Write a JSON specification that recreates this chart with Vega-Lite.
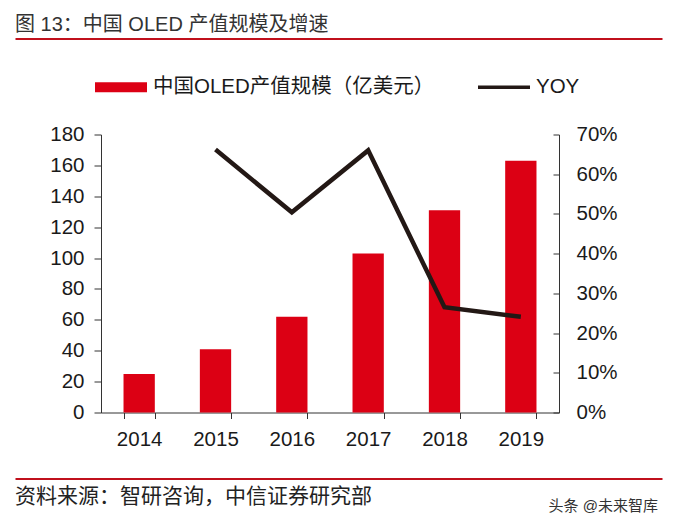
{
  "$schema": "https://vega.github.io/schema/vega-lite/v6.json",
  "padding": {"left": 15, "top": 11.5, "right": 0, "bottom": 0},
  "spacing": 22,
  "config": {
    "view": {"stroke": null},
    "font": "Liberation Sans, Noto Sans CJK SC",
    "axis": {"grid": false}
  },
  "resolve": {"scale": {"color": "independent"}, "legend": {"color": "independent"}},
  "vconcat": [
    {
      "width": 561,
      "height": 27,
      "data": {"values": [{"pos": 0, "label": "图 13：中国 OLED 产值规模及增速"}]},
      "mark": {"type": "text", "align": "left", "baseline": "middle", "fontSize": 20, "color": "#333333", "font": "Liberation Sans, Noto Sans CJK SC"},
      "encoding": {
        "x": {
          "field": "pos", "type": "quantitative",
          "scale": {"domain": [0, 1], "range": [-86, 561], "nice": false, "zero": false},
          "axis": {"orient": "bottom", "domainColor": "#C0101C", "domainWidth": 2, "ticks": false, "labels": false, "title": null, "grid": false}
        },
        "text": {"field": "label", "type": "nominal"}
      }
    },
    {
      "width": 458,
      "height": 278,
      "data": {
        "values": [
          {"year": "2014", "value": 25, "yoy": null},
          {"year": "2015", "value": 41, "yoy": 0.662},
          {"year": "2016", "value": 62, "yoy": 0.504},
          {"year": "2017", "value": 103, "yoy": 0.66},
          {"year": "2018", "value": 131, "yoy": 0.265},
          {"year": "2019", "value": 163, "yoy": 0.241}
        ]
      },
      "layer": [
        {
          "mark": {"type": "bar", "color": "#DC0014"},
          "encoding": {
            "x": {
              "field": "year", "type": "ordinal",
              "scale": {"paddingInner": 0.59, "paddingOuter": 0.295},
              "axis": {
                "orient": "bottom", "title": null, "labelAngle": 0, "tickBand": "extent",
                "tickSize": 6, "labelPadding": 11, "labelFontSize": 20.5, "labelColor": "#1a1a1a",
                "domainColor": "#333333", "tickColor": "#333333", "minExtent": 44
              }
            },
            "y": {
              "field": "value", "type": "quantitative",
              "scale": {"domain": [0, 180], "nice": false},
              "axis": {
                "orient": "left", "title": null, "values": [0, 20, 40, 60, 80, 100, 120, 140, 160, 180],
                "tickSize": 7, "labelPadding": 10, "labelFontSize": 20.5, "labelColor": "#1a1a1a",
                "domainColor": "#333333", "tickColor": "#333333", "minExtent": 86
              }
            },
            "color": {
              "datum": "中国OLED产值规模（亿美元）",
              "scale": {"domain": ["中国OLED产值规模（亿美元）", "YOY"], "range": ["#DC0014", "#231815"]},
              "legend": {
                "orient": "none", "legendX": -6, "legendY": -73.5, "direction": "horizontal",
                "title": null, "padding": 0, "symbolSize": 2704, "labelFontSize": 20.5,
                "labelColor": "#1a1a1a", "labelOffset": 6, "labelLimit": 500, "columnPadding": 43,
                "symbolStrokeWidth": 0,
                "encode": {
                  "symbols": {
                    "update": {
                      "shape": [
                        {"test": "datum.value === 'YOY'", "value": "M-1,-0.07H1V0.07H-1Z"},
                        {"value": "M-1,-0.19H1V0.19H-1Z"}
                      ],
                      "fill": [
                        {"test": "datum.value === 'YOY'", "value": "#231815"},
                        {"value": "#DC0014"}
                      ],
                      "stroke": {"value": "transparent"},
                      "strokeWidth": {"value": 0},
                      "opacity": {"value": 1}
                    }
                  }
                }
              }
            }
          }
        },
        {
          "mark": {"type": "line", "strokeWidth": 4.5, "strokeJoin": "miter", "strokeCap": "butt"},
          "encoding": {
            "x": {"field": "year", "type": "ordinal"},
            "y": {
              "field": "yoy", "type": "quantitative",
              "scale": {"domain": [0, 0.7], "nice": false},
              "axis": {
                "orient": "right", "title": null, "format": ".0%", "values": [0, 0.1, 0.2, 0.3, 0.4, 0.5, 0.6, 0.7],
                "tickSize": -6, "labelPadding": 23, "labelFontSize": 20.5, "labelColor": "#1a1a1a",
                "domainColor": "#333333", "tickColor": "#333333"
              }
            },
            "color": {"datum": "YOY"}
          }
        }
      ],
      "resolve": {"scale": {"y": "independent"}}
    },
    {
      "width": 561,
      "height": 37,
      "encoding": {
        "x": {
          "field": "pos", "type": "quantitative",
          "scale": {"domain": [0, 1], "range": [-86, 561], "nice": false, "zero": false},
          "axis": {"orient": "top", "domainColor": "#C0101C", "domainWidth": 2, "ticks": false, "labels": false, "title": null, "grid": false}
        },
        "text": {"field": "label", "type": "nominal"}
      },
      "layer": [
        {
          "data": {"values": [{"pos": 0, "label": "资料来源：智研咨询，中信证券研究部"}]},
          "mark": {"type": "text", "align": "left", "baseline": "middle", "fontSize": 21, "color": "#222222"}
        },
        {
          "data": {"values": [{"pos": 1, "label": "头条 @未来智库"}]},
          "mark": {"type": "text", "align": "right", "baseline": "middle", "fontSize": 15, "color": "#333333", "dy": 9, "dx": -4}
        }
      ]
    }
  ]
}
